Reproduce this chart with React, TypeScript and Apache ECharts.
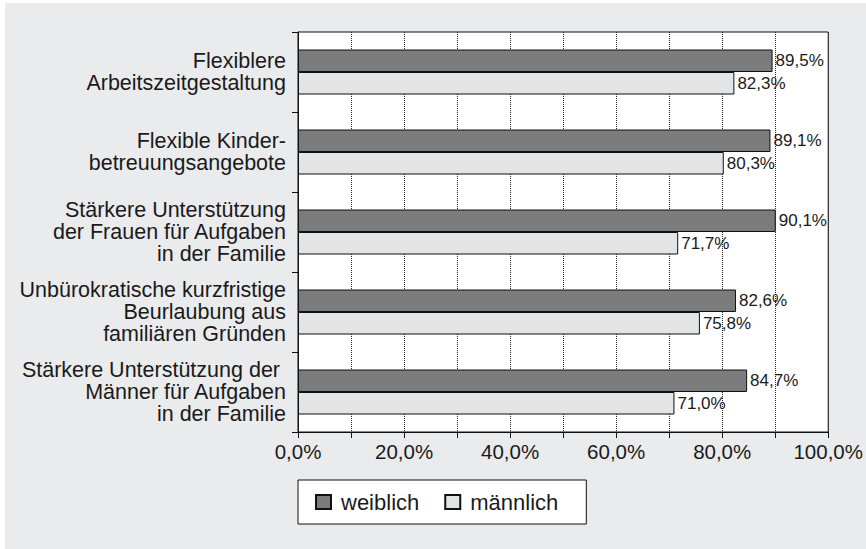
import React, { useEffect, useRef } from "react";
import * as echarts from "echarts";

const categories = [
  "Flexiblere\nArbeitszeitgestaltung",
  "Flexible Kinder-\nbetreuungsangebote",
  "Stärkere Unterstützung\nder Frauen für Aufgaben\nin der Familie",
  "Unbürokratische kurzfristige\nBeurlaubung aus\nfamiliären Gründen",
  "Stärkere Unterstützung der \nMänner für Aufgaben\nin der Familie",
];
const weiblich = [89.5, 89.1, 90.1, 82.6, 84.7];
const maennlich = [82.3, 80.3, 71.7, 75.8, 71.0];
const seriesNames = ["weiblich", "männlich"];

const FONT = "'Liberation Sans', Arial, sans-serif";
const fmt = (v: number) => v.toFixed(1).replace(".", ",") + "%";

export default function App() {
  const ref = useRef<HTMLDivElement>(null);
  useEffect(() => {
    if (!ref.current) return;
    const chart = echarts.init(ref.current, undefined, { renderer: "svg" });
    chart.setOption({
      animation: false,
      textStyle: { fontFamily: FONT },
      grid: {
        left: 293,
        top: 29,
        width: 532,
        height: 400,
        show: true,
        backgroundColor: "#ffffff",
        borderColor: "#111111",
        borderWidth: 1,
        containLabel: false,
      },
      legend: {
        left: 293,
        top: 477,
        orient: "horizontal",
        selectedMode: false,
        backgroundColor: "#ffffff",
        borderColor: "#111111",
        borderWidth: 1,
        padding: [11, 28, 11, 17],
        itemGap: 25,
        itemWidth: 15,
        itemHeight: 14,
        icon: "rect",
        textStyle: {
          fontFamily: FONT,
          fontSize: 22,
          color: "#1a1a1a",
          padding: [0, 0, 0, 5],
        },
        data: seriesNames,
      },
      xAxis: {
        type: "value",
        min: 0,
        max: 100,
        interval: 10,
        axisLine: { show: true, lineStyle: { color: "#111111", width: 1 } },
        axisTick: { show: true, length: 6, lineStyle: { color: "#111111" } },
        axisLabel: {
          fontFamily: FONT,
          fontSize: 20.5,
          color: "#1a1a1a",
          margin: 9,
          showMaxLabel: true,
          formatter: (v: number) => (Math.round(v) % 20 === 0 ? fmt(v) : ""),
        },
        splitLine: {
          show: true,
          lineStyle: { color: "#222222", type: "dotted", width: 1 },
        },
      },
      yAxis: {
        type: "category",
        inverse: true,
        data: categories,
        axisLine: { show: true, lineStyle: { color: "#111111", width: 1 } },
        axisTick: { show: true, length: 6, lineStyle: { color: "#111111" } },
        axisLabel: {
          fontFamily: FONT,
          fontSize: 21.5,
          lineHeight: 22,
          color: "#1a1a1a",
          margin: 12,
          align: "right",
        },
        splitLine: { show: false },
      },
      series: [
        {
          name: seriesNames[0],
          type: "bar",
          data: weiblich,
          barWidth: 22.5,
          barGap: "0%",
          itemStyle: { color: "#7a7b7d", borderColor: "#111111", borderWidth: 1 },
          label: {
            show: true,
            position: "right",
            distance: 3,
            fontFamily: FONT,
            fontSize: 17,
            color: "#1a1a1a",
            formatter: (p: any) => fmt(p.value),
          },
        },
        {
          name: seriesNames[1],
          type: "bar",
          data: maennlich,
          barWidth: 22.5,
          barGap: "0%",
          itemStyle: { color: "#e3e4e6", borderColor: "#111111", borderWidth: 1 },
          label: {
            show: true,
            position: "right",
            distance: 3,
            fontFamily: FONT,
            fontSize: 17,
            color: "#1a1a1a",
            formatter: (p: any) => fmt(p.value),
          },
        },
      ],
    });
    return () => chart.dispose();
  }, []);
  return (
    <div
      style={{
        position: "absolute",
        left: 0,
        top: 0,
        width: 866,
        height: 549,
        background: "#ffffff",
      }}
    >
      <div
        style={{
          position: "absolute",
          left: 5,
          top: 3,
          width: 861,
          height: 546,
          background: "#eaebed",
        }}
      >
        <div ref={ref} style={{ width: 861, height: 546 }} />
      </div>
    </div>
  );
}
